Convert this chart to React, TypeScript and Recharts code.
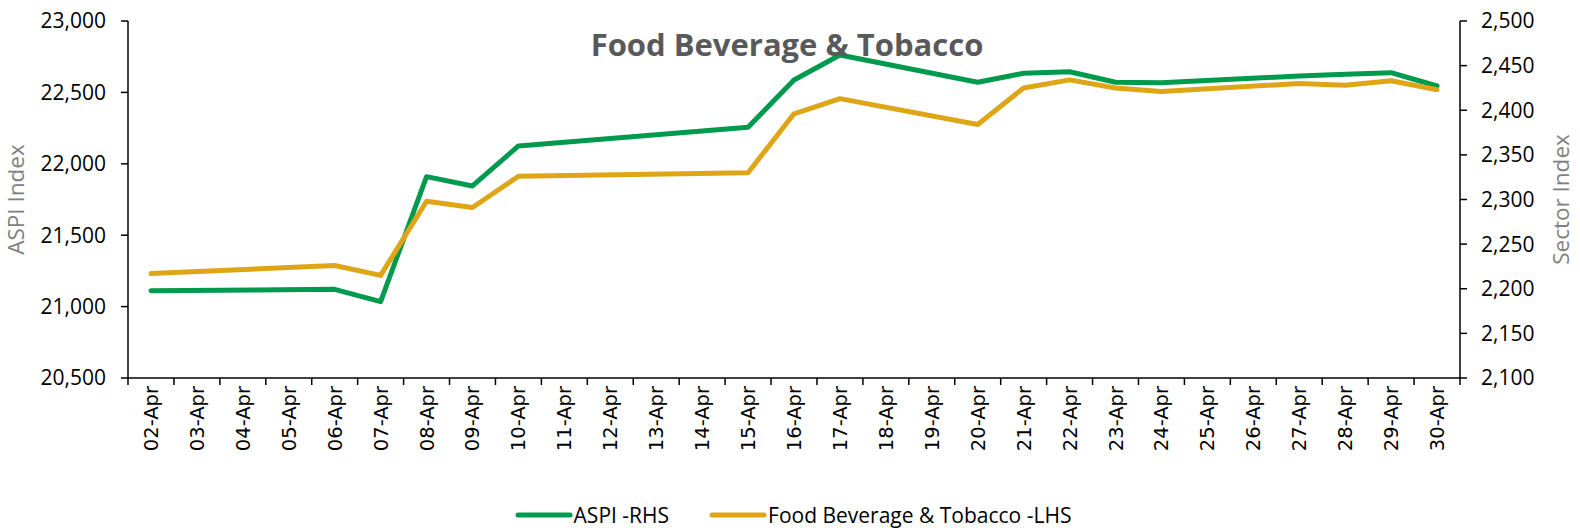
import React from "react";
import { LineChart, Line, XAxis, YAxis, Legend } from "recharts";

const dates = [
  "02-Apr", "03-Apr", "04-Apr", "05-Apr", "06-Apr", "07-Apr", "08-Apr", "09-Apr",
  "10-Apr", "11-Apr", "12-Apr", "13-Apr", "14-Apr", "15-Apr", "16-Apr", "17-Apr",
  "18-Apr", "19-Apr", "20-Apr", "21-Apr", "22-Apr", "23-Apr", "24-Apr", "25-Apr",
  "26-Apr", "27-Apr", "28-Apr", "29-Apr", "30-Apr",
];

// null = no trading that day, the line is joined across it
const aspi = [
  21111, null, null, null, 21121, 21035, 21910, 21845, 22125, null, null, null, null,
  22256, 22587, 22762, null, null, 22571, 22634, 22645, 22571, 22568, null, null,
  22615, 22627, 22638, 22545,
];
const foodBevTobacco = [
  2217, null, null, null, 2226, 2215, 2298, 2291, 2326, null, null, null, null,
  2330, 2396, 2413, null, null, 2384, 2425, 2434, 2425, 2421, null, null,
  2430, 2428, 2433, 2423,
];

const leftTicks = [20500, 21000, 21500, 22000, 22500, 23000];
const rightTicks = [2100, 2150, 2200, 2250, 2300, 2350, 2400, 2450, 2500];
const xBoundaries = dates.map((_, i) => i).concat(dates.length);

const GREEN = "#009A4E";
const GOLD = "#DEA617";
const FONT = "'Open Sans', sans-serif";

const data = dates.map((d, i) => ({
  x: i + 0.5,
  date: d,
  aspi: aspi[i],
  fbt: foodBevTobacco[i],
}));

const PLOT_LEFT = 128;
const PLOT_RIGHT = 1460;
const BAND = (PLOT_RIGHT - PLOT_LEFT) / dates.length;

const fmt = (v: number) => v.toLocaleString("en-US");

// labels sit in the middle of each band, ticks on the band edges (Excel style)
function DateTick(props: any) {
  const { x, y, payload } = props;
  const i = payload.value;
  if (i >= dates.length) return null;
  const cx = x + BAND / 2;
  return (
    <text
      x={cx}
      y={y}
      dy="0.36em"
      transform={`rotate(-90, ${cx}, ${y})`}
      textAnchor="end"
      fontFamily="'DejaVu Sans', sans-serif"
      fontSize={19.5}
      fill="#000"
    >
      {dates[i]}
    </text>
  );
}

function LegendContent() {
  const items = [
    { name: "ASPI -RHS", color: GREEN },
    { name: "Food Beverage & Tobacco -LHS", color: GOLD },
  ];
  return (
    <div style={{ display: "flex", justifyContent: "center", gap: 40, fontFamily: FONT, fontSize: 21, lineHeight: "26px", paddingLeft: 6 }}>
      {items.map((it) => (
        <div key={it.name} style={{ display: "flex", alignItems: "center" }}>
          <svg width={58} height={10} style={{ marginRight: 1 }}>
            <line x1={3} y1={5} x2={55} y2={5} stroke={it.color} strokeWidth={5} strokeLinecap="round" />
          </svg>
          <span style={{ color: "#000" }}>{it.name}</span>
        </div>
      ))}
    </div>
  );
}

const axisTitle = (text: string, side: "left" | "right") => (props: any) => {
  const { viewBox } = props;
  const cx = side === "left" ? 16 : 1561;
  const cy = viewBox.y + viewBox.height / 2;
  return (
    <text
      x={cx}
      y={cy}
      dy="0.36em"
      transform={`rotate(-90, ${cx}, ${cy})`}
      textAnchor="middle"
      fontFamily={FONT}
      fontSize={22.5}
      fill="#7F7F7F"
    >
      {text}
    </text>
  );
};

export default function App() {
  return (
    <div style={{ position: "absolute", left: 0, top: 0, width: 1580, height: 530, background: "#fff" }}>
      <LineChart width={1580} height={530} data={data} margin={{ top: 21, right: 0, bottom: 0, left: 0 }}>
        <XAxis
          dataKey="x"
          type="number"
          domain={[0, dates.length]}
          ticks={xBoundaries}
          interval={0}
          height={152}
          tick={<DateTick />}
          tickSize={7}
          tickMargin={1}
          axisLine={{ stroke: "#000", strokeWidth: 1.5 }}
          tickLine={{ stroke: "#000", strokeWidth: 1.5 }}
        />
        <YAxis
          yAxisId="left"
          orientation="left"
          width={128}
          domain={[20500, 23000]}
          ticks={leftTicks}
          tickFormatter={fmt}
          tickSize={7}
          tickMargin={15}
          tick={{ fill: "#000", fontSize: 21, fontFamily: FONT }}
          axisLine={{ stroke: "#000", strokeWidth: 1.5 }}
          tickLine={{ stroke: "#000", strokeWidth: 1.5 }}
          label={{ content: axisTitle("ASPI Index", "left") }}
        />
        <YAxis
          yAxisId="right"
          orientation="right"
          width={120}
          domain={[2100, 2500]}
          ticks={rightTicks}
          tickFormatter={fmt}
          tickSize={7}
          tickMargin={14}
          tick={{ fill: "#000", fontSize: 21, fontFamily: FONT }}
          axisLine={{ stroke: "#000", strokeWidth: 1.5 }}
          tickLine={{ stroke: "#000", strokeWidth: 1.5 }}
          label={{ content: axisTitle("Sector Index", "right") }}
        />
        <Line
          yAxisId="left"
          dataKey="aspi"
          name="ASPI -RHS"
          type="linear"
          stroke={GREEN}
          strokeWidth={5}
          strokeLinecap="round"
          strokeLinejoin="round"
          dot={false}
          activeDot={false}
          connectNulls
          isAnimationActive={false}
        />
        <Line
          yAxisId="right"
          dataKey="fbt"
          name="Food Beverage & Tobacco -LHS"
          type="linear"
          stroke={GOLD}
          strokeWidth={5}
          strokeLinecap="round"
          strokeLinejoin="round"
          dot={false}
          activeDot={false}
          connectNulls
          isAnimationActive={false}
        />
        <Legend
          verticalAlign="middle"
          align="center"
          layout="horizontal"
          content={<LegendContent />}
          wrapperStyle={{ top: 502, left: 0, width: 1580, height: 26 }}
        />
      </LineChart>
      <div
        style={{
          position: "absolute",
          left: 537,
          top: 29,
          width: 500,
          textAlign: "center",
          fontFamily: FONT,
          fontWeight: 700,
          fontSize: 31,
          lineHeight: "31px",
          color: "#595959",
          pointerEvents: "none",
        }}
      >
        Food Beverage &amp; Tobacco
      </div>
    </div>
  );
}
